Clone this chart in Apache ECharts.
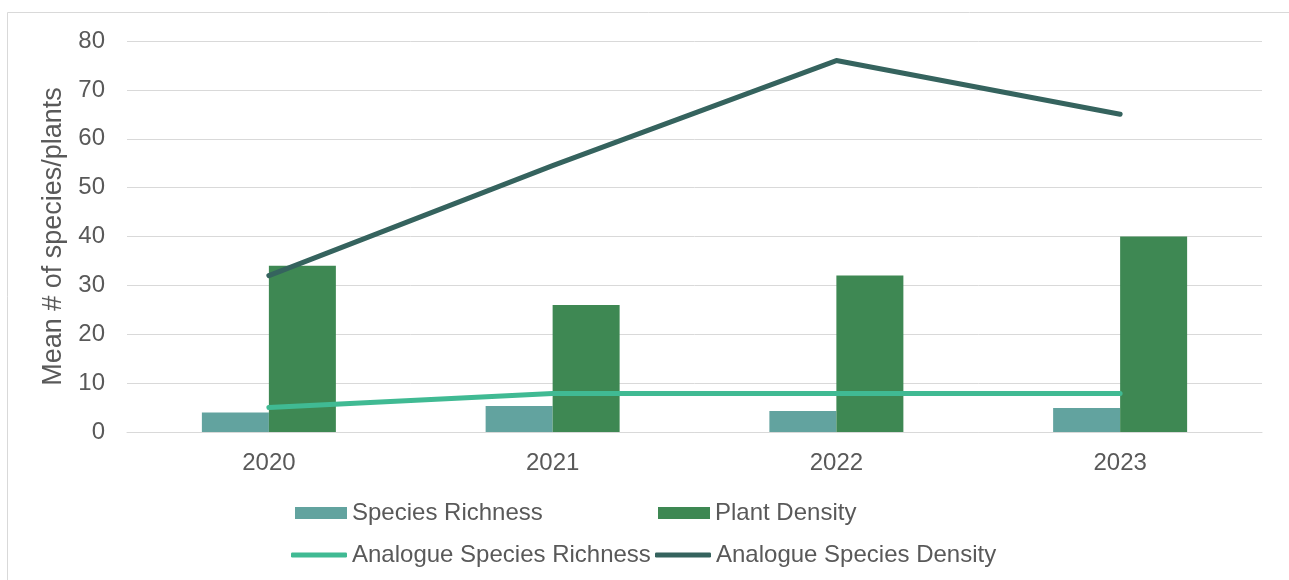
<!DOCTYPE html>
<html>
<head>
<meta charset="utf-8">
<script src="https://cdn.jsdelivr.net/npm/echarts@6/dist/echarts.min.js"></script>
<style>
html,body{margin:0;padding:0;background:#fff;}
#c{width:1289px;height:580px;}
</style>
</head>
<body>
<div id="c"></div>
<script>
const categories = ['2020', '2021', '2022', '2023'];
const speciesRichness = [4.0, 5.3, 4.3, 4.9];
const plantDensity = [34, 26, 32, 40];
const analogueSpeciesRichness = [5.0, 7.9, 7.9, 7.9];
const analogueSpeciesDensity = [32, 54.5, 76, 65];
const yTicks = { min: 0, max: 80, interval: 10 };

const FONT = '"Liberation Sans", Arial, sans-serif';
const TXT = '#595959';
const C_SR = '#62A39F', C_PD = '#3E8853', C_ASR = '#40BA93', C_ASD = '#35635E';

const chart = echarts.init(document.getElementById('c'), null, { renderer: 'canvas' });

function leg(item, left, top, w, h) {
  return {
    data: [item], left: left, top: top, orient: 'horizontal',
    itemWidth: w, itemHeight: h, itemGap: 0, padding: 0,
    textStyle: { fontFamily: FONT, fontSize: 24, color: TXT },
    selectedMode: false
  };
}

chart.setOption({
  animation: false,
  backgroundColor: '#fff',
  textStyle: { fontFamily: FONT },
  graphic: [{
    type: 'rect', silent: true,
    shape: { x: 7.5, y: 12.5, width: 1300, height: 600 },
    style: { fill: 'none', stroke: '#D9D9D9', lineWidth: 1 }
  }],
  grid: { left: 127, right: 27, top: 41, bottom: 148, containLabel: false },
  legend: [
    leg({ name: 'Species Richness', icon: 'rect' }, 295, 501, 52, 12),
    leg({ name: 'Plant Density', icon: 'rect' }, 658, 501, 52, 12),
    leg({ name: 'Analogue Species Richness', icon: 'roundRect' }, 291, 543, 56, 5),
    leg({ name: 'Analogue Species Density', icon: 'roundRect' }, 655, 543, 56, 5)
  ],
  xAxis: {
    type: 'category', data: categories,
    axisLine: { lineStyle: { color: '#D9D9D9', width: 1 } },
    axisTick: { show: false },
    axisLabel: { fontFamily: FONT, fontSize: 24, color: TXT, margin: 19 }
  },
  yAxis: {
    type: 'value', min: yTicks.min, max: yTicks.max, interval: yTicks.interval,
    name: 'Mean # of species/plants', nameLocation: 'middle', nameGap: 54, nameRotate: 90,
    nameTextStyle: { fontFamily: FONT, fontSize: 27, color: TXT },
    axisLine: { show: false }, axisTick: { show: false },
    axisLabel: { fontFamily: FONT, fontSize: 24, color: TXT, margin: 22 },
    splitLine: { lineStyle: { color: '#D9D9D9', width: 1 } }
  },
  series: [
    { name: 'Species Richness', type: 'bar', data: speciesRichness, barWidth: 67, barGap: '0%',
      itemStyle: { color: C_SR } },
    { name: 'Plant Density', type: 'bar', data: plantDensity, barWidth: 67, barGap: '0%',
      itemStyle: { color: C_PD } },
    { name: 'Analogue Species Richness', type: 'line', data: analogueSpeciesRichness,
      symbol: 'none', itemStyle: { color: C_ASR },
      lineStyle: { color: C_ASR, width: 5, cap: 'round', join: 'round' } },
    { name: 'Analogue Species Density', type: 'line', data: analogueSpeciesDensity,
      symbol: 'none', itemStyle: { color: C_ASD },
      lineStyle: { color: C_ASD, width: 5, cap: 'round', join: 'round' } }
  ]
});
</script>
</body>
</html>
